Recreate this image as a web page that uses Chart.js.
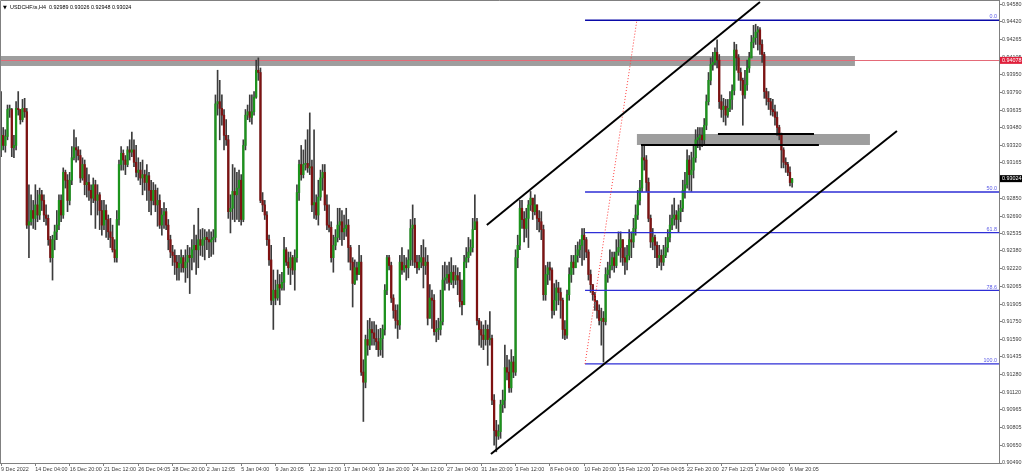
<!DOCTYPE html>
<html>
<head>
<meta charset="utf-8">
<title>USDCHF.ts,H4</title>
<script src="https://cdn.jsdelivr.net/npm/chart.js@4.4.1/dist/chart.umd.min.js"></script>
<style>
  html, body { margin: 0; padding: 0; background: #fff; }
  #wrap { width: 1024px; height: 475px; }
</style>
</head>
<body>
<div id="wrap"><canvas id="chart" width="1024" height="475"></canvas></div>
<script>
// USDCHF H4 candles (open = previous close)
const symbolTitle = 'USDCHF.ts,H4  0.92989 0.93026 0.92948 0.93024';
const firstOpen = 0.9328;

const closes = [
  0.9341,0.9332,0.9340,0.9364,0.9364,0.9330,0.9332,0.9365,0.9364,0.9355,
  0.9365,0.9362,0.9261,0.9264,0.9274,0.9267,0.9279,0.9270,0.9288,0.9283,
  0.9270,0.9267,0.9248,0.9232,0.9248,0.9255,0.9261,0.9283,0.9270,0.9308,
  0.9301,0.9283,0.9301,0.9321,0.9330,0.9328,0.9323,0.9303,0.9315,0.9297,
  0.9299,0.9292,0.9285,0.9297,0.9283,0.9288,0.9274,0.9261,0.9274,0.9266,
  0.9255,0.9250,0.9239,0.9232,0.9266,0.9315,0.9325,0.9319,0.9315,0.9328,
  0.9326,0.9328,0.9317,0.9308,0.9310,0.9303,0.9306,0.9299,0.9305,0.9292,
  0.9283,0.9292,0.9279,0.9283,0.9261,0.9270,0.9273,0.9261,0.9248,0.9237,
  0.9234,0.9228,0.9223,0.9227,0.9232,0.9223,0.9228,0.9234,0.9232,0.9239,
  0.9243,0.9239,0.9248,0.9243,0.9248,0.9250,0.9248,0.9246,0.9248,0.9250,
  0.9369,0.9371,0.9365,0.9359,0.9341,0.9337,0.9273,0.9276,0.9291,0.9288,
  0.9294,0.9301,0.9266,0.9332,0.9359,0.9362,0.9357,0.9362,0.9375,0.9399,
  0.9397,0.9283,0.9279,0.9270,0.9248,0.9230,0.9194,0.9203,0.9196,0.9208,
  0.9205,0.9210,0.9239,0.9228,0.9223,0.9232,0.9221,0.9232,0.9290,0.9315,
  0.9306,0.9315,0.9316,0.9312,0.9313,0.9279,0.9281,0.9270,0.9286,0.9303,
  0.9308,0.9279,0.9261,0.9259,0.9232,0.9243,0.9250,0.9261,0.9264,0.9255,
  0.9258,0.9261,0.9241,0.9228,0.9209,0.9223,0.9217,0.9228,0.9130,0.9121,
  0.9159,0.9154,0.9168,0.9165,0.9160,0.9157,0.9150,0.9160,0.9168,0.9203,
  0.9232,0.9225,0.9196,0.9185,0.9176,0.9172,0.9228,0.9221,0.9225,0.9223,
  0.9230,0.9258,0.9261,0.9228,0.9223,0.9228,0.9232,0.9225,0.9228,0.9178,
  0.9196,0.9194,0.9166,0.9168,0.9168,0.9175,0.9212,0.9214,0.9217,0.9210,
  0.9219,0.9212,0.9216,0.9212,0.9193,0.9190,0.9228,0.9232,0.9237,0.9241,
  0.9257,0.9264,0.9176,0.9168,0.9163,0.9159,0.9168,0.9159,
  0.9160,0.9105,0.9078,0.9073,0.9077,0.9101,0.9105,0.9134,0.9130,0.9116,
  0.9139,0.9130,0.9232,0.9243,0.9276,0.9266,0.9258,0.9267,0.9279,0.9285,
  0.9273,0.9279,0.9267,0.9264,0.9257,0.9199,0.9217,0.9223,0.9221,0.9185,
  0.9194,0.9205,0.9201,0.9194,0.9168,0.9163,0.9199,0.9217,0.9228,0.9223,
  0.9234,0.9239,0.9243,0.9252,0.9248,0.9237,0.9217,0.9208,0.9199,0.9193,
  0.9185,0.9176,0.9178,0.9175,0.9217,0.9221,0.9225,0.9232,0.9225,0.9237,
  0.9241,0.9248,0.9232,0.9228,0.9234,0.9248,0.9246,0.9258,0.9270,0.9283,
  0.9294,0.9321,0.9319,0.9299,0.9267,0.9246,0.9250,0.9243,
  0.9232,0.9234,0.9228,0.9234,0.9241,0.9250,0.9261,0.9267,0.9270,0.9266,
  0.9273,0.9276,0.9292,0.9297,0.9319,0.9306,0.9310,0.9321,0.9337,0.9339,
  0.9341,0.9337,0.9350,0.9371,0.9390,0.9404,0.9406,
  0.9415,0.9408,0.9371,0.9364,0.9367,0.9359,0.9365,0.9373,0.9381,0.9417,
  0.9410,0.9397,0.9390,0.9377,0.9386,0.9401,0.9410,
  0.9424,0.9428,0.9433,0.9435,0.9422,0.9413,0.9380,0.9374,0.9371,0.9364,
  0.9362,0.9357,0.9348,0.9341,0.9328,0.9317,0.9315,0.9308,0.92989,0.93024
];

const highs = [
  0.9380,0.9348,0.9346,0.9368,0.9368,0.9365,0.9341,0.9371,0.9380,0.9364,
  0.9373,0.9374,0.9365,0.9297,0.9288,0.9283,0.9297,0.9292,0.9294,0.9292,
  0.9288,0.9279,0.9270,0.9251,0.9252,0.9261,0.9274,0.9288,0.9288,0.9312,
  0.9310,0.9306,0.9308,0.9331,0.9346,0.9339,0.9331,0.9328,0.9321,0.9319,
  0.9312,0.9306,0.9297,0.9303,0.9301,0.9297,0.9290,0.9283,0.9283,0.9279,
  0.9270,0.9267,0.9261,0.9248,0.9274,0.9319,0.9331,0.9328,0.9323,0.9331,
  0.9337,0.9344,0.9337,0.9332,0.9321,0.9317,0.9319,0.9310,0.9315,0.9308,
  0.9301,0.9299,0.9297,0.9294,0.9288,0.9276,0.9281,0.9276,0.9266,0.9252,
  0.9243,0.9239,0.9234,0.9234,0.9239,0.9234,0.9239,0.9243,0.9241,0.9248,
  0.9261,0.9252,0.9276,0.9257,0.9258,0.9257,0.9255,0.9257,0.9255,0.9257,
  0.9377,0.9399,0.9390,0.9377,0.9364,0.9355,0.9341,0.9288,0.9315,0.9312,
  0.9308,0.9310,0.9306,0.9337,0.9364,0.9368,0.9377,0.9377,0.9380,0.9408,
  0.9410,0.9401,0.9290,0.9283,0.9273,0.9252,0.9243,0.9221,0.9212,0.9221,
  0.9217,0.9219,0.9250,0.9241,0.9237,0.9237,0.9234,0.9239,0.9297,0.9319,
  0.9332,0.9328,0.9337,0.9346,0.9361,0.9319,0.9346,0.9288,0.9301,0.9310,
  0.9315,0.9315,0.9288,0.9279,0.9264,0.9252,0.9257,0.9276,0.9276,0.9274,
  0.9270,0.9276,0.9266,0.9243,0.9232,0.9230,0.9228,0.9243,0.9234,0.9141,
  0.9163,0.9176,0.9178,0.9175,0.9175,0.9172,0.9168,0.9169,0.9172,0.9208,
  0.9234,0.9234,0.9228,0.9199,0.9190,0.9190,0.9234,0.9241,0.9234,0.9232,
  0.9239,0.9266,0.9279,0.9267,0.9234,0.9234,0.9243,0.9248,0.9241,0.9234,
  0.9208,0.9203,0.9199,0.9176,0.9178,0.9203,0.9225,0.9228,0.9225,0.9228,
  0.9232,0.9225,0.9225,0.9223,0.9219,0.9212,0.9234,0.9241,0.9250,0.9248,
  0.9267,0.9288,0.9267,0.9178,0.9175,0.9172,0.9176,0.9172,
  0.9184,0.9163,0.9110,0.9087,0.9083,0.9105,0.9114,0.9154,0.9145,0.9141,
  0.9150,0.9144,0.9239,0.9252,0.9283,0.9283,0.9273,0.9276,0.9283,0.9291,
  0.9283,0.9288,0.9276,0.9274,0.9273,0.9261,0.9225,0.9228,0.9228,0.9223,
  0.9209,0.9212,0.9210,0.9205,0.9196,0.9176,0.9203,0.9223,0.9234,0.9234,
  0.9243,0.9246,0.9248,0.9258,0.9258,0.9250,0.9239,0.9221,0.9208,0.9201,
  0.9194,0.9190,0.9187,0.9184,0.9223,0.9228,0.9239,0.9237,0.9237,0.9248,
  0.9255,0.9255,0.9248,0.9241,0.9243,0.9257,0.9255,0.9267,0.9279,0.9292,
  0.9301,0.9332,0.9332,0.9323,0.9303,0.9270,0.9258,0.9252,
  0.9246,0.9243,0.9239,0.9243,0.9250,0.9257,0.9270,0.9279,0.9285,0.9274,
  0.9279,0.9283,0.9301,0.9308,0.9328,0.9323,0.9326,0.9332,0.9346,0.9348,
  0.9348,0.9348,0.9356,0.9377,0.9397,0.9410,0.9415,
  0.9419,0.9426,0.9413,0.9377,0.9374,0.9373,0.9373,0.9380,0.9386,0.9424,
  0.9422,0.9413,0.9401,0.9392,0.9399,0.9408,0.9415,
  0.9430,0.9439,0.9440,0.9438,0.9437,0.9426,0.9415,0.9383,0.9380,0.9374,
  0.9373,0.9368,0.9362,0.9350,0.9343,0.9330,0.9321,0.9317,0.9313,0.93026
];

const lows = [
  0.9322,0.9328,0.9326,0.9337,0.9357,0.9322,0.9321,0.9328,0.9359,0.9351,
  0.9353,0.9357,0.9258,0.9232,0.9261,0.9258,0.9257,0.9264,0.9266,0.9274,
  0.9264,0.9261,0.9243,0.9228,0.9212,0.9239,0.9248,0.9257,0.9264,0.9267,
  0.9294,0.9273,0.9279,0.9297,0.9319,0.9317,0.9319,0.9299,0.9301,0.9288,
  0.9286,0.9283,0.9270,0.9281,0.9258,0.9270,0.9257,0.9252,0.9257,0.9250,
  0.9248,0.9241,0.9237,0.9228,0.9228,0.9261,0.9310,0.9310,0.9306,0.9313,
  0.9319,0.9322,0.9313,0.9304,0.9301,0.9297,0.9288,0.9292,0.9283,0.9273,
  0.9270,0.9279,0.9273,0.9260,0.9258,0.9252,0.9258,0.9257,0.9239,0.9232,
  0.9225,0.9217,0.9212,0.9212,0.9219,0.9219,0.9210,0.9214,0.9200,0.9221,
  0.9228,0.9217,0.9223,0.9234,0.9233,0.9230,0.9239,0.9232,0.9233,0.9235,
  0.9246,0.9359,0.9337,0.9350,0.9328,0.9332,0.9267,0.9254,0.9266,0.9264,
  0.9266,0.9264,0.9261,0.9264,0.9328,0.9355,0.9353,0.9351,0.9359,0.9374,
  0.9390,0.9281,0.9273,0.9266,0.9243,0.9225,0.9190,0.9168,0.9190,0.9194,
  0.9190,0.9203,0.9203,0.9225,0.9217,0.9208,0.9217,0.9203,0.9228,0.9283,
  0.9301,0.9303,0.9310,0.9308,0.9306,0.9273,0.9267,0.9266,0.9261,0.9283,
  0.9292,0.9274,0.9257,0.9255,0.9228,0.9219,0.9239,0.9246,0.9248,0.9243,
  0.9248,0.9251,0.9228,0.9221,0.9188,0.9208,0.9212,0.9217,0.9127,0.9086,
  0.9116,0.9145,0.9150,0.9154,0.9154,0.9150,0.9144,0.9145,0.9143,0.9163,
  0.9199,0.9221,0.9192,0.9178,0.9169,0.9160,0.9168,0.9217,0.9219,0.9212,
  0.9214,0.9225,0.9225,0.9223,0.9218,0.9221,0.9223,0.9205,0.9217,0.9172,
  0.9185,0.9169,0.9163,0.9157,0.9159,0.9163,0.9172,0.9203,0.9209,0.9203,
  0.9208,0.9205,0.9208,0.9199,0.9188,0.9181,0.9190,0.9223,0.9228,0.9234,
  0.9237,0.9257,0.9172,0.9154,0.9152,0.9150,0.9154,0.9136,
  0.9154,0.9101,0.9065,0.9059,0.9070,0.9071,0.9094,0.9098,0.9123,0.9112,
  0.9112,0.9125,0.9127,0.9223,0.9239,0.9258,0.9246,0.9250,0.9241,0.9274,
  0.9266,0.9270,0.9257,0.9255,0.9248,0.9194,0.9194,0.9208,0.9212,0.9178,
  0.9181,0.9185,0.9190,0.9178,0.9160,0.9159,0.9160,0.9194,0.9210,0.9217,
  0.9223,0.9228,0.9232,0.9225,0.9230,0.9232,0.9212,0.9201,0.9194,0.9185,
  0.9178,0.9172,0.9154,0.9139,0.9172,0.9210,0.9214,0.9221,0.9219,0.9223,
  0.9234,0.9228,0.9225,0.9217,0.9221,0.9230,0.9232,0.9241,0.9252,0.9266,
  0.9279,0.9291,0.9310,0.9291,0.9264,0.9241,0.9239,0.9232,
  0.9223,0.9225,0.9221,0.9225,0.9232,0.9237,0.9246,0.9257,0.9261,0.9258,
  0.9255,0.9264,0.9273,0.9285,0.9294,0.9292,0.9291,0.9303,0.9317,0.9330,
  0.9328,0.9331,0.9332,0.9346,0.9368,0.9386,0.9399,
  0.9404,0.9401,0.9365,0.9357,0.9353,0.9350,0.9357,0.9362,0.9364,0.9377,
  0.9399,0.9390,0.9381,0.9350,0.9374,0.9381,0.9397,
  0.9410,0.9419,0.9422,0.9417,0.9413,0.9406,0.9374,0.9368,0.9364,0.9359,
  0.9358,0.9350,0.9341,0.9337,0.9312,0.9312,0.9308,0.9305,0.9296,0.92948
];

// time axis: one label every 16 bars
const dateLabels = [
  '9 Dec 2022','14 Dec 04:00','16 Dec 20:00','21 Dec 12:00','26 Dec 04:05','28 Dec 20:00',
  '2 Jan 12:05','5 Jan 04:00','9 Jan 20:05','12 Jan 12:00','17 Jan 04:00','19 Jan 20:00',
  '24 Jan 12:00','27 Jan 04:00','31 Jan 20:00','3 Feb 12:00','8 Feb 04:00','10 Feb 20:00',
  '15 Feb 12:00','20 Feb 04:05','22 Feb 20:00','27 Feb 12:05','2 Mar 04:00','6 Mar 20:05'
];
const labelEvery = 16;
const slotCount = 466;   // visible bar slots incl. empty right margin

const priceTicks = [
  0.94580,0.94420,0.94265,0.94105,0.93950,0.93790,0.93635,0.93480,0.93320,0.93165,
  0.93010,0.92850,0.92690,0.92535,0.92380,0.92220,0.92065,0.91905,0.91750,0.91590,
  0.91435,0.91280,0.91120,0.90965,0.90805,0.90650,0.90490
];
const priceMin = 0.90490;
const priceMax = 0.94616;

// drawn objects, in (bar index, price)
const zones = [
  [-0.5, 398.3, 0.94117, 0.94028],
  [296.6, 405.3, 0.93422, 0.93324]
];
const redLevel = 0.94078;
const levelLines = [
  [334.4, 379.2, 0.93422],
  [298.5, 381.5, 0.93324]
];
const channelUpper = [[226.6, 0.92611], [354.0, 0.94598]];
const channelLower = [[228.5, 0.90571], [417.9, 0.93449]];
const fibStart = 272.4;
const fibHigh = 0.94436;
const fibLow = 0.91373;
const fibLevels = [0, 50, 61.8, 78.6, 100];
const fibRay = [[272.4, 0.91373], [296.6, 0.94438]];
const lastPrice = 0.93024;

const opens = closes.map((c, i) => i === 0 ? firstOpen : closes[i - 1]);
const bodies = closes.map((c, i) => [opens[i], c]);
const wicks = closes.map((c, i) => [Math.min(lows[i], opens[i], c), Math.max(highs[i], opens[i], c)]);
const bodyColors = closes.map((c, i) => c >= opens[i] ? '#1c931c' : '#7e1212');
const slotLabels = Array.from({ length: slotCount }, (_, i) =>
  i % labelEvery === 0 && dateLabels[i / labelEvery] ? dateLabels[i / labelEvery] : '');

const smallFont = { family: 'Liberation Sans', size: 5.4 };

const overlay = {
  id: 'overlay',
  beforeDatasetsDraw(chart) {
    const { ctx, chartArea: a, scales: { x, y } } = chart;
    ctx.save();
    ctx.beginPath();
    ctx.rect(a.left, a.top, a.right - a.left, a.bottom - a.top);
    ctx.clip();
    ctx.fillStyle = '#9e9e9e';
    zones.forEach(([i0, i1, p0, p1]) => {
      const x0 = x.getPixelForValue(i0), x1 = x.getPixelForValue(i1);
      const y0 = y.getPixelForValue(p0), y1 = y.getPixelForValue(p1);
      ctx.fillRect(x0, y0, x1 - x0, y1 - y0);
    });
    ctx.strokeStyle = '#e46a78';
    ctx.lineWidth = 1;
    const ry = Math.round(y.getPixelForValue(redLevel)) + 0.5;
    ctx.beginPath();
    ctx.moveTo(a.left, ry);
    ctx.lineTo(a.right, ry);
    ctx.stroke();
    ctx.restore();
  },
  afterDatasetsDraw(chart) {
    const { ctx, chartArea: a, scales: { x, y } } = chart;
    ctx.save();
    ctx.beginPath();
    ctx.rect(a.left, a.top, a.right - a.left, a.bottom - a.top);
    ctx.clip();

    // fibonacci levels
    const fx = x.getPixelForValue(fibStart);
    fibLevels.forEach(lv => {
      const p = fibHigh - (fibHigh - fibLow) * lv / 100;
      const py = y.getPixelForValue(p);
      ctx.strokeStyle = lv === 0 ? '#0a0aa8' : '#2e2ed6';
      ctx.lineWidth = 1.4;
      ctx.beginPath();
      ctx.moveTo(fx, py);
      ctx.lineTo(a.right, py);
      ctx.stroke();
      ctx.fillStyle = '#5a5ae6';
      ctx.font = `${smallFont.size}px ${smallFont.family}`;
      ctx.textAlign = 'right';
      ctx.textBaseline = 'bottom';
      ctx.fillText(lv.toFixed(1), a.right - 2, py - 0.5);
    });

    // fib trend ray (red dotted)
    ctx.strokeStyle = '#ff3b3b';
    ctx.lineWidth = 1;
    ctx.setLineDash([1, 2]);
    ctx.beginPath();
    ctx.moveTo(x.getPixelForValue(fibRay[0][0]), y.getPixelForValue(fibRay[0][1]));
    ctx.lineTo(x.getPixelForValue(fibRay[1][0]), y.getPixelForValue(fibRay[1][1]));
    ctx.stroke();
    ctx.setLineDash([]);

    // channel
    ctx.strokeStyle = '#000';
    ctx.lineWidth = 2;
    [channelUpper, channelLower].forEach(line => {
      ctx.beginPath();
      ctx.moveTo(x.getPixelForValue(line[0][0]), y.getPixelForValue(line[0][1]));
      ctx.lineTo(x.getPixelForValue(line[1][0]), y.getPixelForValue(line[1][1]));
      ctx.stroke();
    });

    // horizontal levels
    levelLines.forEach(([i0, i1, p]) => {
      const py = y.getPixelForValue(p);
      ctx.beginPath();
      ctx.moveTo(x.getPixelForValue(i0), py);
      ctx.lineTo(x.getPixelForValue(i1), py);
      ctx.stroke();
    });
    ctx.restore();
  },
  afterDraw(chart) {
    const { ctx, chartArea: a, scales: { y } } = chart;
    ctx.save();
    // frame
    ctx.strokeStyle = '#808080';
    ctx.lineWidth = 1;
    ctx.beginPath();
    ctx.moveTo(a.left + 0.5, a.bottom);
    ctx.lineTo(a.left + 0.5, a.top + 0.5);
    ctx.lineTo(a.right, a.top + 0.5);
    ctx.stroke();

    // price boxes on the axis
    ctx.font = `${smallFont.size}px ${smallFont.family}`;
    ctx.textAlign = 'left';
    ctx.textBaseline = 'middle';
    [[redLevel, '#e0203c'], [lastPrice, '#000000']].forEach(([p, col]) => {
      const py = y.getPixelForValue(p);
      ctx.fillStyle = col;
      ctx.fillRect(a.right + 1, py - 3.5, 22, 7);
      ctx.fillStyle = '#fff';
      ctx.fillText(p.toFixed(5), a.right + 3, py + 0.3);
    });

    // title
    ctx.fillStyle = '#000';
    ctx.textBaseline = 'alphabetic';
    ctx.font = `5px DejaVu Sans`;
    ctx.fillText('\u25BC', a.left + 3, 8.5);
    ctx.font = `${smallFont.size}px ${smallFont.family}`;
    ctx.fillText(symbolTitle, a.left + 10, 8.5);
    ctx.restore();
  }
};

new Chart(document.getElementById('chart'), {
  type: 'bar',
  data: {
    labels: slotLabels,
    datasets: [
      {
        label: 'wick',
        data: wicks,
        backgroundColor: '#3c3c3c',
        barThickness: 1,
        grouped: false,
        order: 2
      },
      {
        label: 'body',
        data: bodies,
        backgroundColor: bodyColors,
        barThickness: 1.6,
        minBarLength: 1,
        grouped: false,
        order: 1
      }
    ]
  },
  options: {
    responsive: false,
    animation: false,
    events: [],
    layout: { padding: 0 },
    plugins: { legend: { display: false }, tooltip: { enabled: false }, title: { display: false } },
    scales: {
      x: {
        type: 'category',
        offset: true,
        grid: { display: true, drawOnChartArea: false, drawTicks: true, tickLength: 3, color: '#808080', offset: false },
        border: { display: true, color: '#808080' },
        ticks: {
          autoSkip: false,
          maxRotation: 0,
          minRotation: 0,
          align: 'start',
          padding: 0,
          color: '#404040',
          font: smallFont,
          callback(value) { return this.getLabelForValue(value); }
        },
        afterBuildTicks(scale) {
          scale.ticks = scale.ticks.filter(t => slotLabels[t.value] !== '');
        },
        afterFit(scale) {
          scale.height = 12;
          scale.paddingLeft = 0;
          scale.paddingRight = 0;
        }
      },
      y: {
        position: 'right',
        min: priceMin,
        max: priceMax,
        grid: { display: true, drawOnChartArea: false, drawTicks: true, tickLength: 3, color: '#808080' },
        border: { display: true, color: '#808080' },
        ticks: {
          autoSkip: false,
          padding: 0,
          color: '#404040',
          font: smallFont,
          callback: v => v.toFixed(5)
        },
        afterBuildTicks(scale) {
          scale.ticks = priceTicks.map(v => ({ value: v }));
        },
        afterFit(scale) {
          scale.width = 25;
          scale.paddingTop = 0;
          scale.paddingBottom = 0;
        }
      }
    }
  },
  plugins: [overlay]
});
</script>
</body>
</html>
